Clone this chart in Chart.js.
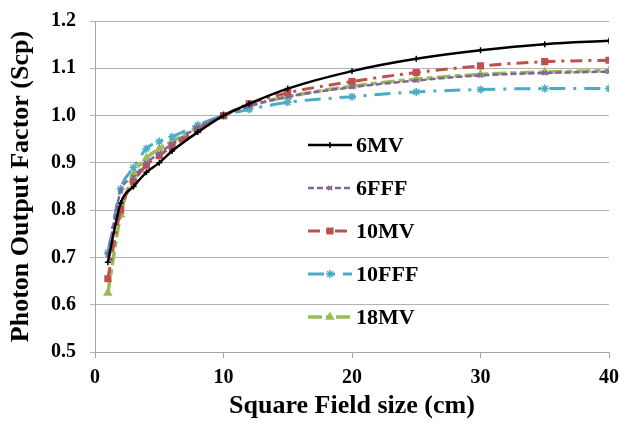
<!DOCTYPE html>
<html>
<head>
<meta charset="utf-8">
<script src="https://cdn.jsdelivr.net/npm/chart.js@4.4.0/dist/chart.umd.min.js"></script>
<style>
  html, body { margin: 0; padding: 0; background: #fff; }
  #wrap { width: 619px; height: 423px; }
</style>
</head>
<body>
<div id="wrap"><canvas id="chart"></canvas></div>
<script>
// field sizes (cm) and output factors
const fieldSizes = [1, 2, 3, 4, 5, 6, 8, 10, 12, 15, 20, 25, 30, 35, 40];
const mv6 =   [0.69, 0.815, 0.85, 0.88, 0.90, 0.925, 0.965, 1.0, 1.025, 1.057, 1.094, 1.12, 1.138, 1.151, 1.158];
const fff6 =  [0.705, 0.84, 0.87, 0.90, 0.92, 0.94, 0.975, 1.0, 1.02, 1.04, 1.06, 1.074, 1.085, 1.09, 1.093];
const mv10 =  [0.655, 0.80, 0.86, 0.895, 0.915, 0.935, 0.97, 1.0, 1.025, 1.048, 1.072, 1.091, 1.105, 1.114, 1.117];
const fff10 = [0.71, 0.845, 0.89, 0.93, 0.945, 0.955, 0.98, 1.0, 1.013, 1.028, 1.04, 1.05, 1.055, 1.057, 1.057];
const mv18 =  [0.625, 0.79, 0.875, 0.91, 0.93, 0.945, 0.975, 1.0, 1.02, 1.04, 1.062, 1.077, 1.087, 1.092, 1.095];

const seriesNames = ['6MV', '6FFF', '10MV', '10FFF', '18MV'];
const xRange = [0, 40];
const yRange = [0.5, 1.2];

const serif = "'Liberation Serif', 'Times New Roman', serif";

function toPoints(values) {
  return fieldSizes.map((x, i) => ({ x: x, y: values[i] }));
}

function makeSeries(label, values, color, dash, pointStyle, radius, width) {
  return {
    label: label,
    data: toPoints(values),
    borderColor: color,
    backgroundColor: color,
    pointBackgroundColor: color,
    pointBorderColor: color,
    borderWidth: width,
    borderDash: dash,
    pointStyle: pointStyle,
    pointRadius: radius,
    pointBorderWidth: 1.5,
    cubicInterpolationMode: 'monotone',
    fill: false
  };
}

const insideLegend = {
  id: 'insideLegend',
  afterDatasetsDraw(chart) {
    const ctx = chart.ctx;
    const area = chart.chartArea;
    const x0 = area.left + 213;
    const y0 = area.top + 124;
    const step = 43;
    chart.data.datasets.forEach((ds, i) => {
      const y = y0 + i * step;
      ctx.save();
      ctx.strokeStyle = ds.borderColor;
      ctx.fillStyle = ds.borderColor;
      ctx.lineWidth = ds.borderWidth;
      ctx.setLineDash(ds.borderDash || []);
      ctx.beginPath();
      ctx.moveTo(x0, y);
      ctx.lineTo(x0 + 44, y);
      ctx.stroke();
      ctx.setLineDash([]);
      if (Chart.helpers && Chart.helpers.drawPoint) {
        ctx.lineWidth = 1.5;
        Chart.helpers.drawPoint(ctx, {
          pointStyle: ds.pointStyle, rotation: 0, radius: ds.pointRadius, borderWidth: 1.5
        }, x0 + 22, y);
      }
      ctx.fillStyle = '#000';
      ctx.font = 'bold 22px ' + serif;
      ctx.textBaseline = 'middle';
      ctx.textAlign = 'left';
      ctx.fillText(ds.label, x0 + 48, y + 1);
      ctx.restore();
    });
  }
};

new Chart(document.getElementById('chart'), {
  type: 'line',
  data: {
    datasets: [
      makeSeries(seriesNames[0], mv6, '#000000', [], 'cross', 3, 2.5),
      makeSeries(seriesNames[1], fff6, '#8064a2', [6, 3], 'crossRot', 3, 2.5),
      makeSeries(seriesNames[2], mv10, '#c0504d', [12, 6, 3, 6], 'rect', 4, 3),
      makeSeries(seriesNames[3], fff10, '#4bacc6', [16, 8, 3, 8], 'star', 4, 3),
      makeSeries(seriesNames[4], mv18, '#9bbb59', [14, 4, 6, 4], 'triangle', 4, 3.5)
    ]
  },
  options: {
    responsive: true,
    maintainAspectRatio: false,
    animation: false,
    layout: {
      padding: { top: 21, right: 10, bottom: 0, left: 0 }
    },
    plugins: {
      legend: { display: false },
      tooltip: { enabled: false }
    },
    scales: {
      x: {
        type: 'linear',
        min: xRange[0],
        max: xRange[1],
        afterFit: (scale) => {
          scale.height = 71;
          scale.paddingLeft = 0;
          scale.paddingRight = 0;
        },
        ticks: {
          stepSize: 10,
          color: '#000',
          padding: 8,
          font: { family: serif, size: 20, weight: 'bold' }
        },
        grid: {
          drawOnChartArea: false,
          drawTicks: true,
          tickLength: 6,
          color: '#a6a6a6'
        },
        border: { color: '#a6a6a6' },
        title: {
          display: true,
          text: 'Square Field size (cm)',
          color: '#000',
          padding: { top: 0, bottom: 1 },
          font: { family: serif, size: 26, weight: 'bold' }
        }
      },
      y: {
        min: yRange[0],
        max: yRange[1],
        afterFit: (scale) => {
          scale.width = 95;
          scale.paddingTop = 0;
          scale.paddingBottom = 0;
        },
        ticks: {
          stepSize: 0.1,
          color: '#000',
          padding: 14,
          font: { family: serif, size: 20, weight: 'bold' },
          callback: (v) => v.toFixed(1)
        },
        grid: {
          color: '#b3b3b3',
          tickLength: 5
        },
        border: { color: '#a6a6a6' },
        title: {
          display: true,
          text: 'Photon Output Factor (Scp)',
          color: '#000',
          padding: { top: 6, bottom: 0 },
          font: { family: serif, size: 26, weight: 'bold' }
        }
      }
    }
  },
  plugins: [insideLegend]
});
</script>
</body>
</html>
